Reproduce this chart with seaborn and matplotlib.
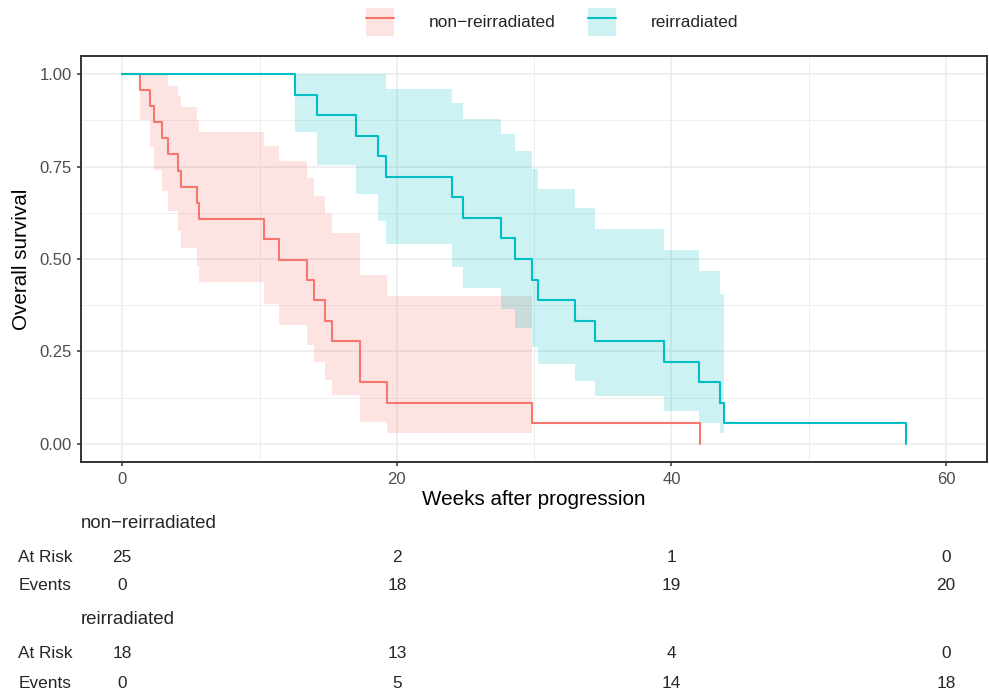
import numpy as np
import pandas as pd
import matplotlib
matplotlib.use("Agg")
import matplotlib.pyplot as plt
import seaborn as sns
from matplotlib.patches import Patch
from matplotlib.lines import Line2D
from matplotlib.legend_handler import HandlerTuple
from matplotlib.transforms import blended_transform_factory

# ---------------- data ----------------
groups = ["non−reirradiated", "reirradiated"]
colors = ["#F8766D", "#00BFC4"]

red_time = [0, 1.31, 2.04, 2.28, 2.89, 3.32, 4.05, 4.29, 5.48, 5.60, 10.33, 11.44,
            13.48, 14.0, 14.74, 15.30, 17.31, 19.29, 29.87, 42.1]
red_surv = [1.0, 0.957, 0.913, 0.870, 0.826, 0.783, 0.739, 0.696, 0.652, 0.609, 0.554,
            0.498, 0.443, 0.388, 0.332, 0.277, 0.166, 0.111, 0.055, 0.0]
red_upper = [1.0, 1.0, 1.0, 1.0, 0.968, 0.940, 0.910, 0.873, 0.844, 0.805, 0.765,
             0.720, 0.671, 0.622, 0.569, 0.457, 0.401]
red_lower = [0.875, 0.803, 0.742, 0.683, 0.630, 0.577, 0.529, 0.482, 0.437, 0.377,
             0.322, 0.268, 0.220, 0.173, 0.131, 0.058, 0.028]

teal_time = [0, 12.58, 14.16, 17.04, 18.6, 19.18, 24.0, 24.85, 27.56, 28.6, 29.86,
             30.28, 33.0, 34.42, 39.42, 41.99, 43.56, 43.85, 57.07]
teal_surv = [1.0, 0.944, 0.889, 0.833, 0.778, 0.722, 0.667, 0.611, 0.556, 0.5, 0.444,
             0.389, 0.333, 0.278, 0.222, 0.167, 0.111, 0.056, 0.0]
teal_upper = [1.0, 1.0, 1.0, 1.0, 0.959, 0.921, 0.880, 0.837, 0.791, 0.743, 0.690,
              0.638, 0.582, 0.523, 0.467, 0.406]
teal_lower = [0.844, 0.753, 0.677, 0.604, 0.540, 0.478, 0.421, 0.364, 0.312, 0.263,
              0.215, 0.171, 0.129, 0.089, 0.057, 0.028]

risk_times = [0, 20, 40, 60]
red_at_risk = [25, 2, 1, 0]
red_events = [0, 18, 19, 20]
teal_at_risk = [18, 13, 4, 0]
teal_events = [0, 5, 14, 18]

# ---------------- style ----------------
sns.set_style("white")
plt.rcParams["font.family"] = ["Liberation Sans", "DejaVu Sans"]

W, H = 989, 694
fig = plt.figure(figsize=(W / 100, H / 100), dpi=100)
ax = fig.add_axes([81 / W, 1 - 462.3 / H, (987.3 - 81) / W, (462.3 - 55.7) / H])

df = pd.concat([
    pd.DataFrame({"time": red_time, "surv": red_surv, "group": groups[0]}),
    pd.DataFrame({"time": teal_time, "surv": teal_surv, "group": groups[1]}),
], ignore_index=True)

# confidence bands
bands = [
    (red_time[1:len(red_upper) + 2], red_lower, red_upper, colors[0]),
    (teal_time[1:len(teal_upper) + 2], teal_lower, teal_upper, colors[1]),
]
for t, lo, up, c in bands:
    ax.fill_between(t, lo + [lo[-1]], up + [up[-1]], step="post",
                    color=c, alpha=0.2, lw=0, zorder=2)

sns.lineplot(data=df, x="time", y="surv", hue="group", hue_order=groups,
             palette=colors, estimator=None, sort=False, drawstyle="steps-post",
             linewidth=1.5, legend=False, ax=ax, zorder=3)

ax.set_xlim(-3.0, 63.0)
ax.set_ylim(-0.05, 1.05)
ax.set_xticks([0, 20, 40, 60])
ax.set_xticks([10, 30, 50], minor=True)
ax.set_yticks([0, 0.25, 0.5, 0.75, 1.0])
ax.set_yticklabels(["0.00", "0.25", "0.50", "0.75", "1.00"])
ax.set_yticks([0.125, 0.375, 0.625, 0.875], minor=True)
ax.grid(which="major", color="#EBEBEB", lw=1.1, zorder=0)
ax.grid(which="minor", color="#EBEBEB", lw=0.6, zorder=0)
ax.set_axisbelow(True)
for s in ax.spines.values():
    s.set_visible(True)
    s.set_color("#333333")
    s.set_linewidth(1.4)
ax.tick_params(which="major", length=2.8, width=1.1, color="#333333",
               labelsize=12, labelcolor="#4D4D4D", pad=4,
               left=True, bottom=True)
ax.tick_params(which="minor", length=0)
ax.set_xlabel("Weeks after progression", fontsize=14.9, color="black", labelpad=2)
ax.set_ylabel("Overall survival", fontsize=14.9, color="black", labelpad=6)

# legend
handles = [(Patch(facecolor=c, alpha=0.2, lw=0), Line2D([], [], color=c, lw=1.5))
           for c in colors]
fig.legend(handles, groups, handler_map={tuple: HandlerTuple(ndivide=1)},
           loc="center", bbox_to_anchor=(552 / W, 1 - 22 / H), ncol=2,
           frameon=False, fontsize=12.4, handlelength=1.63, handleheight=2.1,
           handletextpad=2.0, columnspacing=1.9, borderpad=0)

# risk table
tr = blended_transform_factory(ax.transData, fig.transFigure)
def fy(py):
    return 1 - py / H

rows = [
    (groups[0], 523, red_at_risk, 557, red_events, 586),
    (groups[1], 620, teal_at_risk, 653, teal_events, 683),
]
for name, ty, risk, ry, ev, ey in rows:
    fig.text(81 / W, fy(ty), name, ha="left", va="center", fontsize=13.4)
    fig.text(72 / W, fy(ry), "At Risk", ha="right", va="center", fontsize=12.4)
    fig.text(72 / W, fy(ey), "Events", ha="right", va="center", fontsize=12.4)
    for t, r, e in zip(risk_times, risk, ev):
        ax.text(t, fy(ry), str(r), transform=tr, ha="center", va="center",
                fontsize=12.4, clip_on=False)
        ax.text(t, fy(ey), str(e), transform=tr, ha="center", va="center",
                fontsize=12.4, clip_on=False)

fig.savefig("out.png", dpi=100)
